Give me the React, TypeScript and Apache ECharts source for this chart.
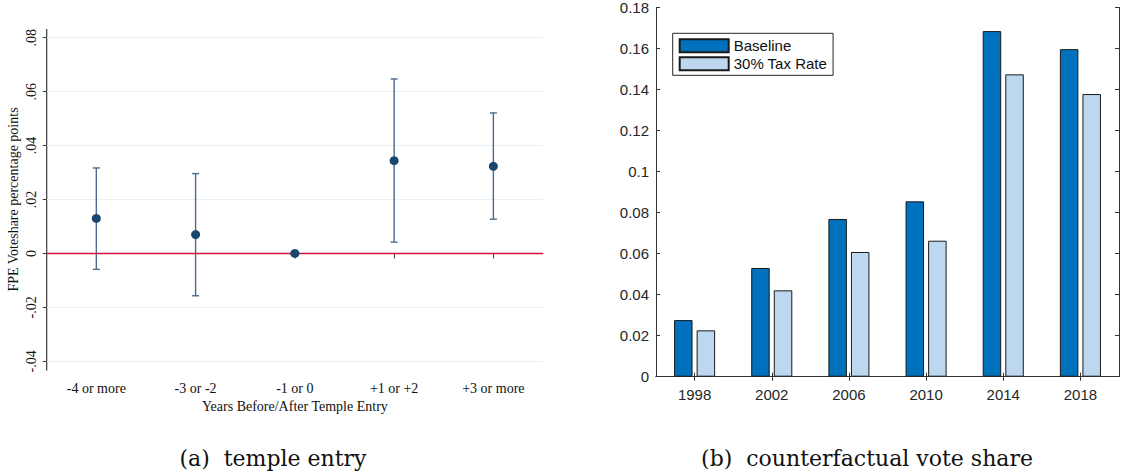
import React, { useEffect, useRef } from "react";
import * as echarts from "echarts";

// ---------- Panel (a): temple entry ----------
const entryCats = ["-4 or more", "-3 or -2", "-1 or 0", "+1 or +2", "+3 or more"];
const entryCoef = [0.013, 0.007, 0, 0.0344, 0.0323];
const entryLow: (number | null)[] = [-0.0059, -0.0157, null, 0.0042, 0.0127];
const entryHigh: (number | null)[] = [0.0317, 0.0296, null, 0.0647, 0.0521];
const entryYTicks = { min: -0.04, max: 0.08, interval: 0.02 };

// ---------- Panel (b): counterfactual vote share ----------
const years = ["1998", "2002", "2006", "2010", "2014", "2018"];
const baseline = [0.0276, 0.053, 0.0769, 0.0855, 0.1685, 0.1597];
const taxRate30 = [0.0226, 0.0421, 0.0608, 0.0663, 0.1474, 0.1378];
const shareYTicks = { min: 0, max: 0.18, interval: 0.02 };

const captionA = "(a)  temple entry";
const captionB = "(b)  counterfactual vote share";

const SERIF = "Liberation Serif";
const SANS = "Liberation Sans";

function stataNum(v: number): string {
  if (Math.abs(v) < 1e-9) return "0";
  const s = v.toFixed(2);
  return s.replace(/^(-?)0\./, "$1.");
}

export default function App() {
  const ref = useRef<HTMLDivElement>(null);
  useEffect(() => {
    if (!ref.current) return;
    const chart = echarts.init(ref.current, undefined, { renderer: "svg" });

    const errData = entryCats
      .map((_, i) => [i, entryLow[i], entryHigh[i]])
      .filter((d) => d[1] !== null && d[2] !== null);

    const option: any = {
      animation: false,
      backgroundColor: "#ffffff",
      grid: [
        { left: 46.7, top: 37.7, width: 496.3, height: 323.6, containLabel: false },
        { left: 656, top: 7.3, width: 463, height: 369.4, containLabel: false },
      ],
      xAxis: [
        {
          type: "category",
          gridIndex: 0,
          data: entryCats,
          boundaryGap: true,
          offset: 8.7,
          axisLine: { show: true, lineStyle: { color: "#3a3a3a", width: 1.2 } },
          axisTick: { show: true, alignWithLabel: true, length: 5, lineStyle: { color: "#3a3a3a" } },
          axisLabel: { fontFamily: SERIF, fontSize: 14, color: "#111", margin: 11 },
          splitLine: { show: false },
          name: "Years Before/After Temple Entry",
          nameLocation: "middle",
          nameGap: 22,
          nameTextStyle: { fontFamily: SERIF, fontSize: 14, color: "#111" },
        },
        {
          type: "category",
          gridIndex: 1,
          data: years,
          boundaryGap: true,
          position: "bottom",
          axisLine: { show: true, lineStyle: { color: "#333", width: 1 } },
          axisTick: { show: true, inside: true, alignWithLabel: true, length: 4, lineStyle: { color: "#333" } },
          axisLabel: { fontFamily: SANS, fontSize: 15, color: "#262626", margin: 10 },
          splitLine: { show: false },
        },
        {
          type: "category",
          gridIndex: 1,
          data: years,
          boundaryGap: true,
          position: "top",
          axisLine: { show: true, lineStyle: { color: "#333", width: 1 } },
          axisTick: { show: true, inside: true, alignWithLabel: true, length: 4, lineStyle: { color: "#333" } },
          axisLabel: { show: false },
          splitLine: { show: false },
        },
      ],
      yAxis: [
        {
          type: "value",
          gridIndex: 0,
          min: entryYTicks.min,
          max: entryYTicks.max,
          interval: entryYTicks.interval,
          axisLine: { show: false },
          axisTick: { show: true, length: 4, lineStyle: { color: "#3a3a3a" } },
          axisLabel: {
            fontFamily: SERIF,
            fontSize: 14,
            color: "#111",
            rotate: 90,
            margin: 8,
            formatter: (v: number) => stataNum(v),
          },
          splitLine: { show: true, lineStyle: { color: "#e8f0f1", width: 1.2 } },
          name: "FPE Voteshare percentage points",
          nameLocation: "middle",
          nameRotate: 90,
          nameGap: 26,
          nameTextStyle: { fontFamily: SERIF, fontSize: 14, color: "#111" },
        },
        {
          type: "value",
          gridIndex: 1,
          min: shareYTicks.min,
          max: shareYTicks.max,
          interval: shareYTicks.interval,
          position: "left",
          axisLine: { show: true, lineStyle: { color: "#333", width: 1 } },
          axisTick: { show: true, inside: true, length: 4, lineStyle: { color: "#333" } },
          axisLabel: {
            fontFamily: SANS,
            fontSize: 15,
            color: "#262626",
            margin: 7,
            formatter: (v: number) => (Math.abs(v) < 1e-9 ? "0" : String(Number(v.toFixed(2)))),
          },
          splitLine: { show: false },
        },
        {
          type: "value",
          gridIndex: 1,
          min: shareYTicks.min,
          max: shareYTicks.max,
          interval: shareYTicks.interval,
          position: "right",
          axisLine: { show: true, lineStyle: { color: "#333", width: 1 } },
          axisTick: { show: true, inside: true, length: 4, lineStyle: { color: "#333" } },
          axisLabel: { show: false },
          splitLine: { show: false },
        },
      ],
      legend: {
        show: true,
        data: ["Baseline", "30% Tax Rate"],
        orient: "vertical",
        left: 672.7,
        top: 33.3,
        itemWidth: 49,
        itemHeight: 13,
        itemGap: 3,
        padding: [5, 6, 4, 6],
        backgroundColor: "#ffffff",
        borderColor: "#262626",
        borderWidth: 1,
        borderRadius: 0,
        textStyle: { fontFamily: SANS, fontSize: 15, color: "#111", padding: [0, 0, 0, 0] },
        selectedMode: false,
        icon: "rect",
      },
      series: [
        {
          type: "custom",
          name: "ci",
          xAxisIndex: 0,
          yAxisIndex: 0,
          data: errData,
          z: 2,
          renderItem: (params: any, api: any) => {
            const x = api.value(0);
            const lo = api.coord([x, api.value(1)]);
            const hi = api.coord([x, api.value(2)]);
            const cap = 3.5;
            const style = { stroke: "#4a6b8c", lineWidth: 1.4 };
            return {
              type: "group",
              children: [
                { type: "line", shape: { x1: lo[0], y1: lo[1], x2: hi[0], y2: hi[1] }, style },
                { type: "line", shape: { x1: hi[0] - cap, y1: hi[1], x2: hi[0] + cap, y2: hi[1] }, style },
                { type: "line", shape: { x1: lo[0] - cap, y1: lo[1], x2: lo[0] + cap, y2: lo[1] }, style },
              ],
            };
          },
        },
        {
          type: "scatter",
          name: "coef",
          xAxisIndex: 0,
          yAxisIndex: 0,
          data: entryCoef,
          symbol: "circle",
          symbolSize: 9,
          itemStyle: { color: "#1a476f", opacity: 1 },
          z: 4,
          markLine: {
            silent: true,
            symbol: ["none", "none"],
            label: { show: false },
            lineStyle: { color: "#d0143c", width: 1.4, type: "solid", opacity: 1 },
            data: [{ yAxis: 0 }],
            z: 3,
          },
        },
        {
          type: "bar",
          name: "Baseline",
          xAxisIndex: 1,
          yAxisIndex: 1,
          data: baseline,
          barWidth: 18.5,
          barGap: "22%",
          itemStyle: { color: "#0072bd", borderColor: "#1a1a1a", borderWidth: 1 },
        },
        {
          type: "bar",
          name: "30% Tax Rate",
          xAxisIndex: 1,
          yAxisIndex: 1,
          data: taxRate30,
          barWidth: 18.5,
          barGap: "22%",
          itemStyle: { color: "#bdd7f1", borderColor: "#1a1a1a", borderWidth: 1 },
        },
      ],
      graphic: [
        {
          type: "line",
          shape: { x1: 46.7, y1: 29, x2: 46.7, y2: 370.5 },
          style: { stroke: "#3a3a3a", lineWidth: 1.2 },
          silent: true,
        },
        {
          type: "text",
          x: 273,
          y: 458,
          style: {
            text: captionA,
            fontFamily: "DejaVu Serif",
            fontSize: 22,
            fill: "#111",
            align: "center",
            verticalAlign: "middle",
          },
        },
        {
          type: "text",
          x: 867,
          y: 458,
          style: {
            text: captionB,
            fontFamily: "DejaVu Serif",
            fontSize: 22,
            fill: "#111",
            align: "center",
            verticalAlign: "middle",
          },
        },
      ],
    };

    chart.setOption(option);
    return () => chart.dispose();
  }, []);

  return (
    <div
      ref={ref}
      style={{ position: "fixed", left: 0, top: 0, width: 1129, height: 476, background: "#fff" }}
    />
  );
}
